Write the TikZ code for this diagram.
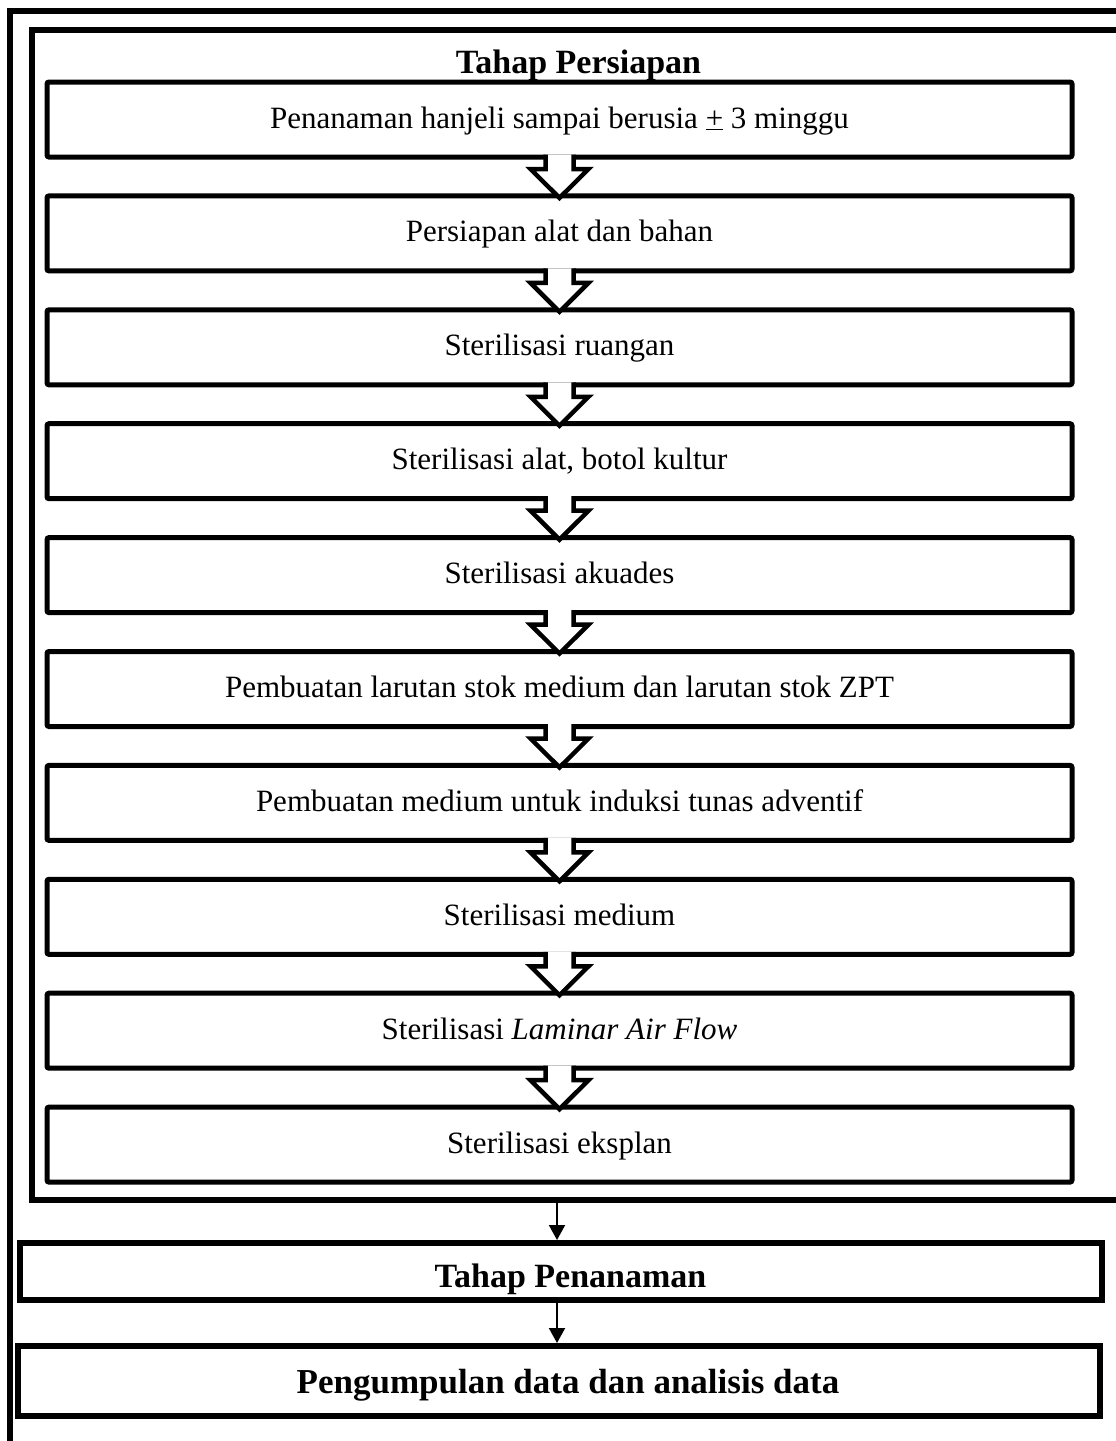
\documentclass[tikz,border=0pt]{standalone}
\usepackage{fontspec}
\setmainfont{Liberation Serif}
\usetikzlibrary{calc,arrows.meta}
\newcommand\blockarrow[2]{%
  \draw[blk] ($(#1.south)+(-14,-2.5)$) -- ($(#1.south)+(-14,12)$) -- ($(#1.south)+(-29,12)$) -- ($(#2.north)+(0,2)$) -- ($(#1.south)+(29,12)$) -- ($(#1.south)+(14,12)$) -- ($(#1.south)+(14,-2.5)$);}
\begin{document}
\begin{tikzpicture}[x=1pt,y=-1pt,
  stepbox/.style={draw, line width=5pt, rounded corners=2pt, minimum width=1025pt, minimum height=75pt, inner sep=0pt, outer sep=0pt, font=\fontsize{31}{36}\selectfont, text height=22pt, text depth=5pt},
  bigbox/.style={draw, line width=6pt, minimum width=1082pt, inner sep=0pt, outer sep=0pt},
  frame/.style={line width=6pt},
  thinarrow/.style={line width=2pt, -{Triangle[length=15pt,width=16pt]}},
  blk/.style={draw, fill=white, line width=4.5pt, line join=miter}
]
\useasboundingbox (0,0) rectangle (1116,1441);
\fill[white] (0,0) rectangle (1116,1441);
\clip (0,0) rectangle (1116,1441);
% outer frame
\draw[frame] (10,1450) -- (10,11) -- (1130,11);
% inner frame
\draw[frame] (1130,30) -- (32,30) -- (32,1200) -- (1130,1200);
\node[font=\bfseries\fontsize{34}{40}\selectfont, anchor=base] (title) at (578.5,73) {Tahap Persiapan};
\node[stepbox] (b0) at (559.5,119.5) {Penanaman hanjeli sampai berusia \underline{+} 3 minggu};
\node[stepbox] (b1) at (559.5,233.4) {Persiapan alat dan bahan};
\node[stepbox] (b2) at (559.5,347.3) {Sterilisasi ruangan};
\node[stepbox] (b3) at (559.5,461.2) {Sterilisasi alat, botol kultur};
\node[stepbox] (b4) at (559.5,575.1) {Sterilisasi akuades};
\node[stepbox] (b5) at (559.5,689.0) {Pembuatan larutan stok medium dan larutan stok ZPT};
\node[stepbox] (b6) at (559.5,802.9) {Pembuatan medium untuk induksi tunas adventif};
\node[stepbox] (b7) at (559.5,916.8) {Sterilisasi medium};
\node[stepbox] (b8) at (559.5,1030.7) {Sterilisasi \textit{Laminar Air Flow}};
\node[stepbox] (b9) at (559.5,1144.6) {Sterilisasi eksplan};
\blockarrow{b0}{b1}
\blockarrow{b1}{b2}
\blockarrow{b2}{b3}
\blockarrow{b3}{b4}
\blockarrow{b4}{b5}
\blockarrow{b5}{b6}
\blockarrow{b6}{b7}
\blockarrow{b7}{b8}
\blockarrow{b8}{b9}
\node[bigbox, minimum height=57pt, text height=31pt, text depth=0pt, font=\bfseries\fontsize{34}{40}\selectfont] (pen) at (561,1271.5) {\hspace*{19pt}Tahap Penanaman};
\node[bigbox, minimum height=70pt, text height=24pt, text depth=0pt, font=\bfseries\fontsize{35}{42}\selectfont] (pgd) at (559,1381) {\hspace*{18pt}Pengumpulan data dan analisis data};
\coordinate (fb) at (557,1203);
\draw[thinarrow, shorten >=3pt] (fb) -- (fb |- pen.north);
\draw[thinarrow, shorten <=3pt, shorten >=3pt] (pen.south -| fb) -- (pgd.north -| fb);
\end{tikzpicture}
\end{document}
